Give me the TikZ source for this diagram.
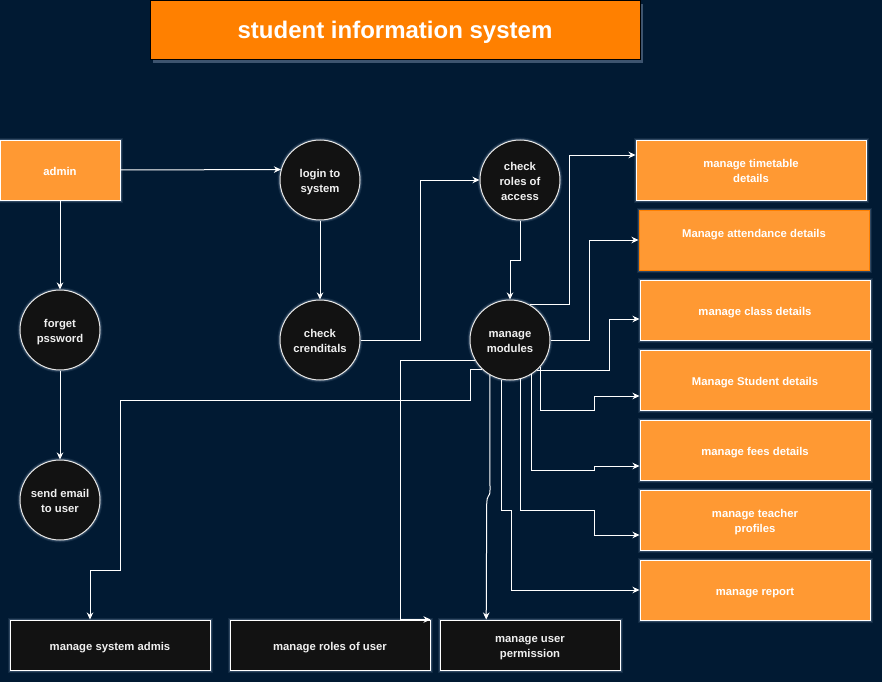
\documentclass[tikz,border=0pt]{standalone}
\usepackage{fontspec}
\setmainfont{Liberation Sans}
\usetikzlibrary{arrows.meta,calc,shadows}

\definecolor{navy}{RGB}{1,26,51}
\definecolor{boxorange}{RGB}{255,153,51}
\definecolor{titleorange}{RGB}{255,128,0}
\definecolor{darkfill}{RGB}{18,18,18}
\definecolor{glowc}{RGB}{175,195,225}

% centred lines of text, set a little below the geometric centre
\newcommand\celltext[2][2pt]{\raisebox{-#1}[\height][\depth]{\begin{tabular}{@{}c@{}}#2\end{tabular}}}

\tikzset{
  glow/.style={preaction={draw=glowc, line width=5pt, opacity=0.10},
               preaction={draw=glowc, line width=3pt, opacity=0.20}},
  txt/.style={font=\bfseries\fontsize{11.3}{15}\selectfont, inner sep=0pt},
  proc/.style={circle, minimum size=80pt, fill=darkfill, draw=white!82!gray,
               line width=1pt, text=white!94!black, txt, glow},
  obox/.style={rectangle, minimum width=230pt, minimum height=60pt, fill=boxorange,
               draw=white, line width=1pt, text=white, txt, glow},
  dbox/.style={rectangle, minimum height=50pt, fill=darkfill, draw=white,
               line width=1pt, text=white!94!black, txt, glow},
  flow/.style={draw=white, line width=1pt,
               -{Stealth[length=7pt, width=6.5pt, inset=2.2pt]}},
}

\begin{document}
\begin{tikzpicture}[x=1pt, y=-1pt]
  % canvas
  \fill[navy] (0,0) rectangle (882,682);
  \useasboundingbox (0,0) rectangle (882,682);

  % heading
  \node[rectangle, minimum width=490pt, minimum height=59pt, fill=titleorange,
        draw=black, line width=1pt, text=white, inner sep=0pt,
        font=\bfseries\fontsize{24}{28}\selectfont,
        drop shadow={shadow xshift=3pt, shadow yshift=-3pt, fill=glowc, opacity=0.35}]
        (title) at (395,30.5) {\celltext[2.5pt]{student information system}};

  % actor
  \node[obox, minimum width=120pt] (ad) at (60,170) {\celltext{admin}};

  % processes
  \node[proc] (lg) at (320,180) {\celltext{login to\\system}};
  \node[proc] (cc) at (320,340) {\celltext{check\\crenditals}};
  \node[proc] (fp) at (60,330)  {\celltext{forget\\pssword}};
  \node[proc] (se) at (60,500)  {\celltext{send email\\to user}};
  \node[proc] (cr) at (520,180) {\celltext{check\\roles of\\access}};
  \node[proc] (mm) at (510,340) {\celltext{manage\\modules}};

  % module boxes
  \node[obox] (tt) at (751,170) {\celltext{manage timetable\\details}};
  \node[obox, draw=titleorange] (at) at (754,240) {\celltext{Manage attendance details\\\mbox{}}};
  \node[obox] (cl) at (755,310) {\celltext{manage class details}};
  \node[obox] (st) at (755,380) {\celltext{Manage Student details}};
  \node[obox] (fe) at (755,450) {\celltext{manage fees details}};
  \node[obox] (te) at (755,520) {\celltext{manage teacher\\profiles}};
  \node[obox] (rp) at (755,590) {\celltext{manage report}};

  % administration boxes
  \node[dbox, minimum width=200pt] (sa) at (110,645) {\celltext{manage system admis}};
  \node[dbox, minimum width=200pt] (ru) at (330,645) {\celltext{manage roles of user}};
  \node[dbox, minimum width=180pt] (up) at (530,645) {\celltext{manage user\\permission}};

  % login flow
  \draw[flow] (ad.east) -- (lg.165.5);
  \draw[flow] (ad.south) -- (fp.north);
  \draw[flow] (lg.south) -- (cc.north);
  \draw[flow] (fp.south) -- (se.north);
  \draw[flow] (cc.east) -- ++(60,0) |- (cr.west);
  \draw[flow] (cr.south) -- ++(0,40) -| (mm.north);

  % module connectors
  \draw[flow] (mm.61) -| ($(tt.west)+(-66,-15)$) -- ($(tt.west)+(0,-15)$);
  \draw[flow] (mm.east) -| ($(at.west)+(-49,0)$) -- (at.west);
  \draw[flow] (mm.-48.6) -| ($(cl.west)+(-30,9)$) -- ($(cl.west)+(0,9)$);
  \draw[flow] (mm.-41.4) |- ($(st.west)+(-45,30)$) |- ($(st.west)+(0,16)$);
  \draw[flow] (mm.-58.8) |- ($(fe.west)+(-45,20)$) |- ($(fe.west)+(0,16)$);
  \draw[flow] (mm.-75) |- ($(te.west)+(-45,-10)$) |- ($(te.west)+(0,15)$);
  \draw[flow] (mm.-102.6) |- ($(rp.west)+(-128.3,-80)$) |- (rp.west);

  % administration connectors
  \draw[flow] (mm.-120) -- (490,490) .. controls (490,499) and (486.7,492) .. (486.7,506)
              -- ($(up.north west)+(46.7,0)$);
  \draw[flow] (mm.-133.5) -| (470,400) -| (120,570) -| ($(sa.north)+(-20,0)$);
  \draw[flow] (mm.-150) -| ($(ru.north)+(70,0)$) -- (ru.north east);
\end{tikzpicture}
\end{document}
